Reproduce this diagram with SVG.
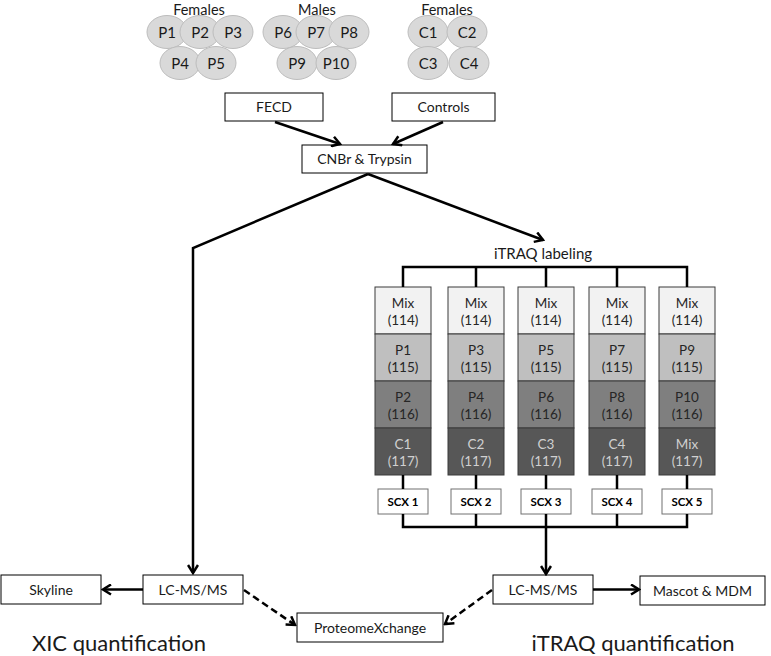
<svg xmlns="http://www.w3.org/2000/svg" width="771" height="656" viewBox="0 0 771 656">
<defs>
<style>
text{font-family:Lato,"Liberation Sans",sans-serif;text-anchor:middle;fill:#1a1a1a}
.lbl{font-size:14px}
.el{font-size:15px}
.hd{font-size:15px}
.top{font-size:14.5px}
.big{font-size:22px}
.box{fill:#fff;stroke:#000;stroke-width:1}
.scx{fill:#fff;stroke:#707070;stroke-width:1}
.scxt{font-size:11.5px;font-weight:bold;fill:#000}
.ell{fill:#d9d9d9;stroke:#bdbdbd;stroke-width:1}
.c1{fill:#f2f2f2;stroke:#3a3a3a;stroke-width:1}
.c2{fill:#bfbfbf;stroke:#3a3a3a;stroke-width:1}
.c3{fill:#7f7f7f;stroke:#3a3a3a;stroke-width:1}
.c4{fill:#575757;stroke:#3a3a3a;stroke-width:1}
.ct{font-size:13.5px;fill:#262626}
.ctl{font-size:13.5px;fill:#d0d0d0}
.ln{fill:none;stroke:#000;stroke-width:2.5}
.dl{fill:none;stroke:#000;stroke-width:2.5;stroke-dasharray:7,4}
</style>
<marker id="ah" viewBox="0 0 12 12" refX="10" refY="6" markerWidth="12" markerHeight="12" markerUnits="userSpaceOnUse" orient="auto">
<path d="M2,1 L10,6 L2,11" fill="none" stroke="#000" stroke-width="2.5"/>
</marker>
</defs>
<rect width="771" height="656" fill="#fff"/>

<g id="group-females-p">
<text class="top" x="199" y="15">Females</text>
<ellipse class="ell" cx="167" cy="32" rx="20" ry="16.5"/>
<ellipse class="ell" cx="200" cy="32" rx="20" ry="16.5"/>
<ellipse class="ell" cx="233" cy="32" rx="20" ry="16.5"/>
<ellipse class="ell" cx="180" cy="63" rx="20" ry="16.5"/>
<ellipse class="ell" cx="216" cy="63" rx="20" ry="16.5"/>
<text class="el" x="167" y="37.5">P1</text>
<text class="el" x="200" y="37.5">P2</text>
<text class="el" x="233" y="37.5">P3</text>
<text class="el" x="180" y="68.5">P4</text>
<text class="el" x="216" y="68.5">P5</text>
</g>

<g id="group-males">
<text class="top" x="317" y="15">Males</text>
<ellipse class="ell" cx="283" cy="32" rx="20" ry="16.5"/>
<ellipse class="ell" cx="316" cy="32" rx="20" ry="16.5"/>
<ellipse class="ell" cx="349" cy="32" rx="20" ry="16.5"/>
<ellipse class="ell" cx="297" cy="63" rx="20" ry="16.5"/>
<ellipse class="ell" cx="336" cy="63" rx="20" ry="16.5"/>
<text class="el" x="283" y="37.5">P6</text>
<text class="el" x="316" y="37.5">P7</text>
<text class="el" x="349" y="37.5">P8</text>
<text class="el" x="297" y="68.5">P9</text>
<text class="el" x="336" y="68.5">P10</text>
</g>

<g id="group-females-c">
<text class="top" x="447" y="15">Females</text>
<ellipse class="ell" cx="428" cy="32" rx="20" ry="16.5"/>
<ellipse class="ell" cx="467" cy="32" rx="20" ry="16.5"/>
<ellipse class="ell" cx="428" cy="63" rx="20" ry="16.5"/>
<ellipse class="ell" cx="469" cy="63" rx="20" ry="16.5"/>
<text class="el" x="428" y="37.5">C1</text>
<text class="el" x="467" y="37.5">C2</text>
<text class="el" x="428" y="68.5">C3</text>
<text class="el" x="469" y="68.5">C4</text>
</g>

<g id="fecd"><rect class="box" x="225" y="93" width="98" height="28"/><text class="lbl" x="274" y="112">FECD</text></g>
<g id="controls"><rect class="box" x="392" y="93" width="103" height="28"/><text class="lbl" x="443.5" y="112">Controls</text></g>
<g id="cnbr"><rect class="box" x="302" y="145" width="125" height="28"/><text class="lbl" x="364.5" y="164">CNBr &amp; Trypsin</text></g>

<g id="itraq-label"><text class="hd" x="543" y="259">iTRAQ labeling</text></g>

<g id="col1">
<rect class="c1" x="375" y="287" width="56" height="47"/><rect class="c2" x="375" y="334" width="56" height="47"/><rect class="c3" x="375" y="381" width="56" height="47"/><rect class="c4" x="375" y="428" width="56" height="47"/>
<text class="ct" x="403" y="308">Mix</text><text class="ct" x="403" y="325">(114)</text>
<text class="ct" x="403" y="355">P1</text><text class="ct" x="403" y="372">(115)</text>
<text class="ct" x="403" y="402">P2</text><text class="ct" x="403" y="419">(116)</text>
<text class="ctl" x="403" y="449">C1</text><text class="ctl" x="403" y="466">(117)</text>
</g>
<g id="col2">
<rect class="c1" x="448" y="287" width="56" height="47"/><rect class="c2" x="448" y="334" width="56" height="47"/><rect class="c3" x="448" y="381" width="56" height="47"/><rect class="c4" x="448" y="428" width="56" height="47"/>
<text class="ct" x="476" y="308">Mix</text><text class="ct" x="476" y="325">(114)</text>
<text class="ct" x="476" y="355">P3</text><text class="ct" x="476" y="372">(115)</text>
<text class="ct" x="476" y="402">P4</text><text class="ct" x="476" y="419">(116)</text>
<text class="ctl" x="476" y="449">C2</text><text class="ctl" x="476" y="466">(117)</text>
</g>
<g id="col3">
<rect class="c1" x="518" y="287" width="56" height="47"/><rect class="c2" x="518" y="334" width="56" height="47"/><rect class="c3" x="518" y="381" width="56" height="47"/><rect class="c4" x="518" y="428" width="56" height="47"/>
<text class="ct" x="546" y="308">Mix</text><text class="ct" x="546" y="325">(114)</text>
<text class="ct" x="546" y="355">P5</text><text class="ct" x="546" y="372">(115)</text>
<text class="ct" x="546" y="402">P6</text><text class="ct" x="546" y="419">(116)</text>
<text class="ctl" x="546" y="449">C3</text><text class="ctl" x="546" y="466">(117)</text>
</g>
<g id="col4">
<rect class="c1" x="589" y="287" width="56" height="47"/><rect class="c2" x="589" y="334" width="56" height="47"/><rect class="c3" x="589" y="381" width="56" height="47"/><rect class="c4" x="589" y="428" width="56" height="47"/>
<text class="ct" x="617" y="308">Mix</text><text class="ct" x="617" y="325">(114)</text>
<text class="ct" x="617" y="355">P7</text><text class="ct" x="617" y="372">(115)</text>
<text class="ct" x="617" y="402">P8</text><text class="ct" x="617" y="419">(116)</text>
<text class="ctl" x="617" y="449">C4</text><text class="ctl" x="617" y="466">(117)</text>
</g>
<g id="col5">
<rect class="c1" x="659" y="287" width="56" height="47"/><rect class="c2" x="659" y="334" width="56" height="47"/><rect class="c3" x="659" y="381" width="56" height="47"/><rect class="c4" x="659" y="428" width="56" height="47"/>
<text class="ct" x="687" y="308">Mix</text><text class="ct" x="687" y="325">(114)</text>
<text class="ct" x="687" y="355">P9</text><text class="ct" x="687" y="372">(115)</text>
<text class="ct" x="687" y="402">P10</text><text class="ct" x="687" y="419">(116)</text>
<text class="ctl" x="687" y="449">Mix</text><text class="ctl" x="687" y="466">(117)</text>
</g>

<g id="scx1"><rect class="scx" x="378" y="489" width="50" height="25"/><text class="scxt" x="403" y="505.5">SCX 1</text></g>
<g id="scx2"><rect class="scx" x="451" y="489" width="50" height="25"/><text class="scxt" x="476" y="505.5">SCX 2</text></g>
<g id="scx3"><rect class="scx" x="521" y="489" width="50" height="25"/><text class="scxt" x="546" y="505.5">SCX 3</text></g>
<g id="scx4"><rect class="scx" x="592" y="489" width="50" height="25"/><text class="scxt" x="617" y="505.5">SCX 4</text></g>
<g id="scx5"><rect class="scx" x="662" y="489" width="50" height="25"/><text class="scxt" x="687" y="505.5">SCX 5</text></g>

<g id="skyline"><rect class="box" x="1" y="575" width="100" height="29"/><text class="lbl" x="51" y="594.5">Skyline</text></g>
<g id="lcms-left"><rect class="box" x="143" y="575" width="100" height="29"/><text class="lbl" x="193" y="594.5">LC-MS/MS</text></g>
<g id="proteomexchange"><rect class="box" x="297" y="613" width="146" height="29"/><text class="lbl" x="370" y="632.5">ProteomeXchange</text></g>
<g id="lcms-right"><rect class="box" x="493" y="575" width="100" height="29"/><text class="lbl" x="543" y="594.5">LC-MS/MS</text></g>
<g id="mascot"><rect class="box" x="640" y="576" width="125" height="29"/><text class="lbl" x="702.5" y="595.5">Mascot &amp; MDM</text></g>

<g id="titles">
<text class="big" x="119" y="651">XIC quantification</text>
<text class="big" x="633" y="651">iTRAQ quantification</text>
</g>

<g id="connectors">
<line class="ln" x1="275" y1="122" x2="340" y2="144" marker-end="url(#ah)"/>
<line class="ln" x1="443" y1="122" x2="393" y2="144" marker-end="url(#ah)"/>
<polyline class="ln" points="368,174 193,248 193,573" marker-end="url(#ah)"/>
<line class="ln" x1="368" y1="174" x2="543" y2="240" marker-end="url(#ah)"/>
<polyline class="ln" points="403,287 403,267 687,267 687,287"/>
<line class="ln" x1="476" y1="267" x2="476" y2="287"/>
<line class="ln" x1="546" y1="267" x2="546" y2="287"/>
<line class="ln" x1="617" y1="267" x2="617" y2="287"/>
<line class="ln" x1="403" y1="475" x2="403" y2="489"/>
<line class="ln" x1="476" y1="475" x2="476" y2="489"/>
<line class="ln" x1="546" y1="475" x2="546" y2="489"/>
<line class="ln" x1="617" y1="475" x2="617" y2="489"/>
<line class="ln" x1="687" y1="475" x2="687" y2="489"/>
<polyline class="ln" points="403,514 403,527 687,527 687,514"/>
<line class="ln" x1="476" y1="514" x2="476" y2="527"/>
<line class="ln" x1="546" y1="514" x2="546" y2="574" marker-end="url(#ah)"/>
<line class="ln" x1="617" y1="514" x2="617" y2="527"/>
<line class="ln" x1="143" y1="589.5" x2="103" y2="589.5" marker-end="url(#ah)"/>
<line class="ln" x1="593" y1="589.5" x2="639" y2="589.5" marker-end="url(#ah)"/>
<line class="dl" x1="244" y1="590" x2="295" y2="625" marker-end="url(#ah)"/>
<line class="dl" x1="492" y1="590" x2="445" y2="624" marker-end="url(#ah)"/>
</g>
</svg>
